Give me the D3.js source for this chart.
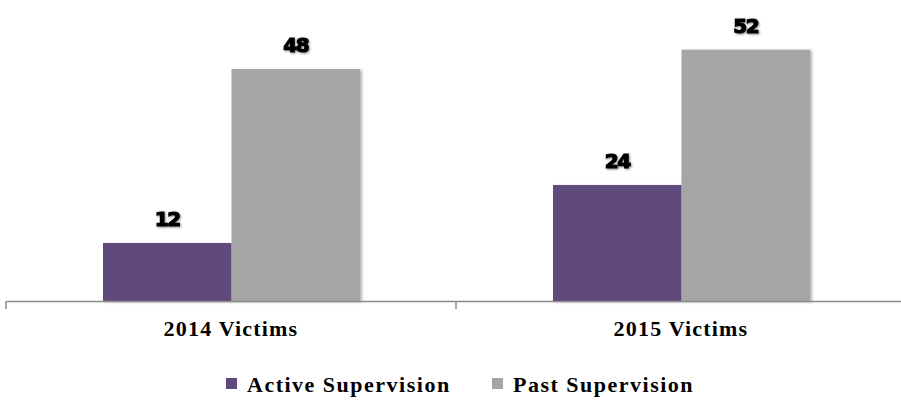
<!DOCTYPE html>
<html><head><meta charset="utf-8">
<script src="https://cdn.jsdelivr.net/npm/d3@7"></script>
<style>body{margin:0;background:#fff;}svg{display:block;}</style>
</head><body><div id="chart"></div>
<script>
const categories = ["2014 Victims", "2015 Victims"];
const seriesNames = ["Active Supervision", "Past Supervision"];
const activeValues = [12, 24];
const pastValues = [48, 52];
const colors = ["#604a7b", "#a5a5a5"];

const W = 901, H = 400;
const svg = d3.select("#chart").append("svg").attr("width", W).attr("height", H);
const defs = svg.append("defs");
const f = defs.append("filter").attr("id", "sh").attr("x", "-10%").attr("y", "-10%").attr("width", "130%").attr("height", "130%");
f.append("feDropShadow").attr("dx", 2).attr("dy", 1).attr("stdDeviation", 1.5).attr("flood-color", "#000").attr("flood-opacity", 0.3);
const ft = defs.append("filter").attr("id", "tsh").attr("x", "-20%").attr("y", "-20%").attr("width", "150%").attr("height", "150%");
ft.append("feDropShadow").attr("dx", 1).attr("dy", 1).attr("stdDeviation", 0.8).attr("flood-color", "#000").attr("flood-opacity", 0.45);

const x0 = d3.scaleBand().domain(categories).range([6, 906]).paddingInner(0).paddingOuter(0);
const x1 = d3.scaleBand().domain(seriesNames).range([97, 354]);
const y = d3.scaleLinear().domain([0, 60]).range([301, 11]);

const data = categories.map((c, i) => ({cat: c, vals: [activeValues[i], pastValues[i]]}));

const g = svg.append("g");
const groups = g.selectAll(".grp").data(data).join("g")
  .attr("transform", d => `translate(${x0(d.cat)},0)`);

groups.selectAll("rect").data(d => d.vals.map((v, k) => ({s: seriesNames[k], v, k})))
  .join("rect")
  .attr("x", d => x1(d.s))
  .attr("width", x1.bandwidth())
  .attr("y", d => y(d.v))
  .attr("height", d => y(0) - y(d.v))
  .attr("fill", d => colors[d.k])
  .attr("filter", "url(#sh)");

groups.selectAll("text.val").data(d => d.vals.map((v, k) => ({s: seriesNames[k], v, k})))
  .join("text").attr("class", "val")
  .attr("x", d => x1(d.s) + x1.bandwidth() / 2)
  .attr("y", d => y(d.v) - 17)
  .attr("text-anchor", "middle")
  .attr("font-family", "'DejaVu Sans', sans-serif")
  .attr("font-weight", "bold")
  .attr("font-size", 20)
  .attr("stroke", "#000").attr("stroke-width", 1.2)
  .attr("letter-spacing", -1.5)
  .attr("filter", "url(#tsh)")
  .text(d => d.v);

// axis
const axis = d3.axisBottom(x0).tickSize(0).tickFormat(d => d);
const ax = svg.append("g").attr("transform", `translate(0,${y(0)})`).call(axis);
ax.select(".domain").attr("stroke", "#8c8c8c").attr("stroke-width", 1.5);
ax.selectAll(".tick text")
  .attr("dy", 0).attr("y", 35)
  .attr("font-family", "'Liberation Serif', serif")
  .attr("font-weight", "bold")
  .attr("font-size", 22)
  .attr("letter-spacing", 1.2)
  .attr("fill", "#000");
// boundary ticks
const bounds = [x0.range()[0], ...categories.slice(1).map(c => x0(c))];
ax.selectAll(".bt").data(bounds).join("line").attr("class", "bt")
  .attr("x1", d => d).attr("x2", d => d).attr("y1", 0).attr("y2", 8)
  .attr("stroke", "#8c8c8c").attr("stroke-width", 1.5);

// legend
const legendX = [226, 492];
const lg = svg.append("g");
const items = lg.selectAll("g").data(seriesNames).join("g")
  .attr("transform", (d, i) => `translate(${legendX[i]},378)`);
items.append("rect").attr("width", 11).attr("height", 11).attr("fill", (d, i) => colors[i]);
items.append("text").attr("x", 21).attr("y", 14)
  .attr("font-family", "'Liberation Serif', serif")
  .attr("font-weight", "bold").attr("font-size", 22).attr("fill", "#000")
  .attr("letter-spacing", 1.5)
  .text(d => d);
</script></body></html>
